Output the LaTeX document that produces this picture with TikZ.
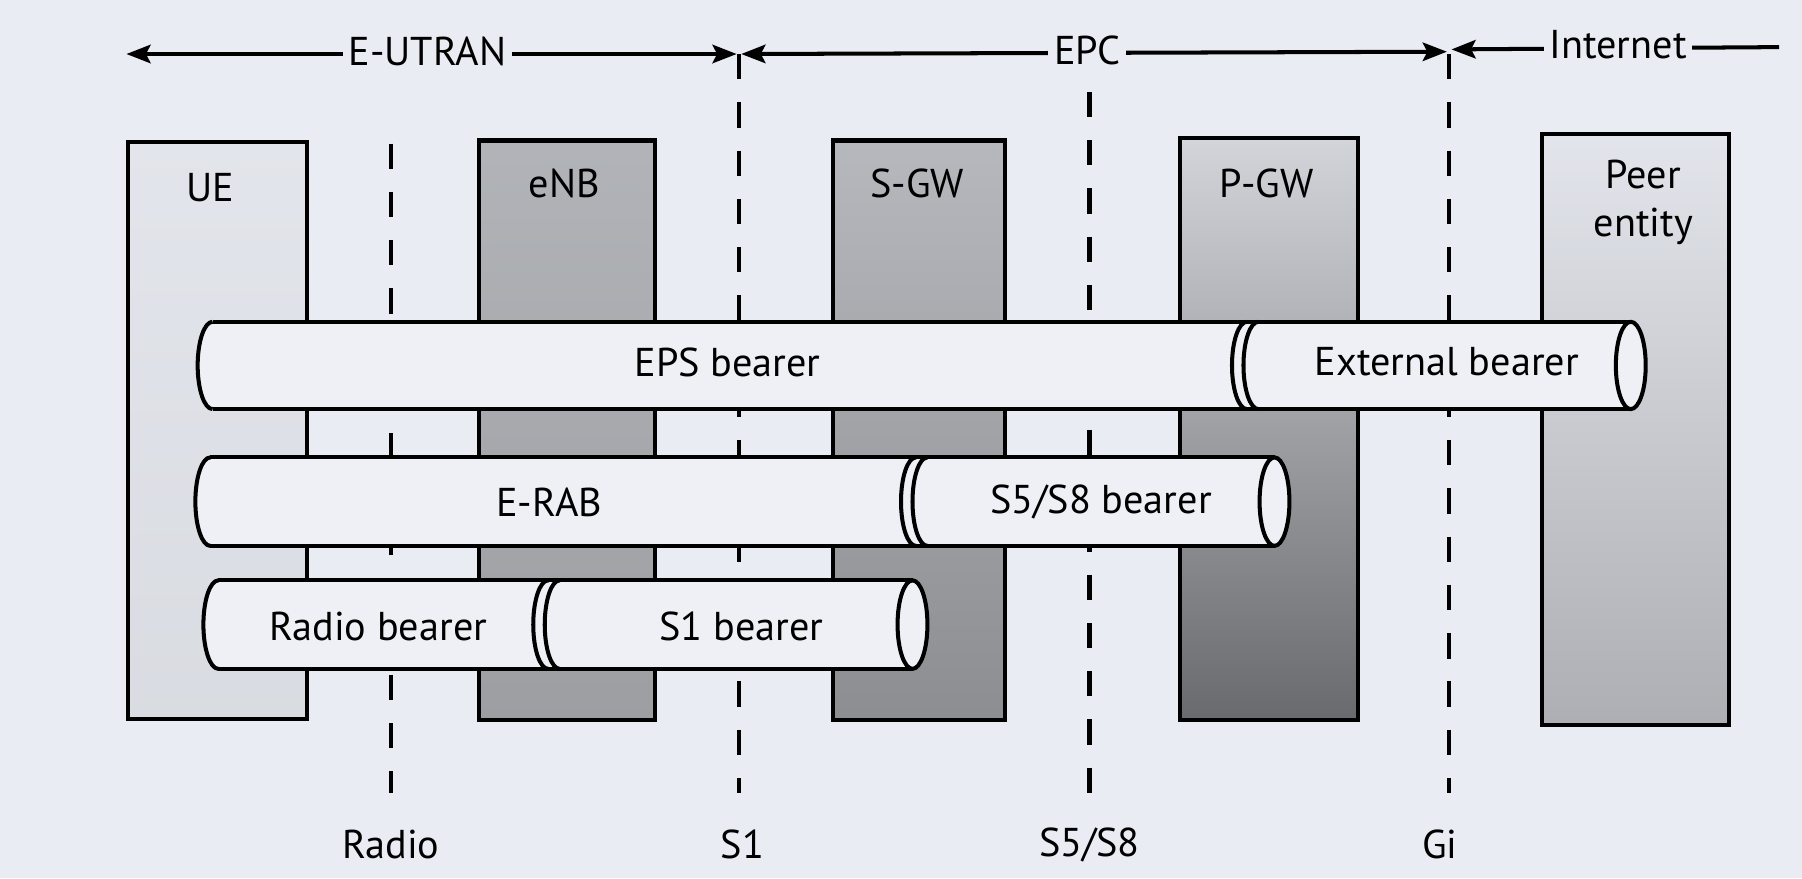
\documentclass[tikz,border=0pt]{standalone}
\usepackage{fontspec}
\setmainfont{PT Sans}
\usetikzlibrary{arrows.meta,positioning}
\definecolor{bg}{HTML}{E9ECF2}
\definecolor{cylc}{HTML}{EEF0F5}
\tikzset{
  box/.style={draw=black, line width=3.5pt, anchor=south west, inner sep=0pt},
  lbl/.style={inner sep=1pt, align=center},
  iface/.style={line width=3.5pt, dash pattern=on 22pt off 20pt},
  cylfill/.style={fill=cylc},
  cylline/.style={draw=black, line width=3.5pt, line join=round},
  arr/.style={line width=3.5pt, {Stealth[length=21pt,width=16pt,inset=4pt]}-{Stealth[length=21pt,width=16pt,inset=4pt]}},
  larr/.style={line width=3.5pt, {Stealth[length=21pt,width=16pt,inset=4pt]}-},
  onarrow/.style={fill=bg, inner xsep=5pt, inner ysep=2pt},
}
\begin{document}
\begin{tikzpicture}[x=1pt,y=1pt,font=\fontsize{35}{41}\selectfont]
\fill[bg] (0,0) rectangle (1568,764);
\useasboundingbox (0,0) rectangle (1568,764);

% network element boxes
\node[box, top color=black!3!bg, bottom color=black!7!bg, minimum width=155, minimum height=502] (ue) at (110,137) {};
\node[box, top color=black!24!bg, bottom color=black!33!bg, minimum width=153, minimum height=504] (enb) at (415,136) {};
\node[box, top color=black!22!bg, bottom color=black!40!bg, minimum width=150, minimum height=504] (sgw) at (723,136) {};
\node[box, top color=black!10!bg, bottom color=black!55!bg, minimum width=155, minimum height=506] (pgw) at (1025,136) {};
\node[box, top color=black!3!bg, bottom color=black!26!bg, minimum width=163, minimum height=515] (peer) at (1340,131) {};

\node[lbl] (uel) at (183,601) {UE};
\node[lbl] (enbl) at (491,604) {eNB};
\node[lbl] (sgwl) at (798,604) {S-GW};
\node[lbl] (pgwl) at (1102,604) {P-GW};
\node[lbl, align=center, font=\fontsize{35}{42}\selectfont] (peerl) at (1430,588) {Peer\\entity};

% interface lines
\coordinate (radT) at (340,639); \coordinate (radB) at (340,74);
\coordinate (s1T) at (643,717);  \coordinate (s1B) at (643,74);
\coordinate (s5T) at (948,684);  \coordinate (s5B) at (948,74);
\coordinate (giT) at (1261,717); \coordinate (giB) at (1261,74);
\draw[iface] (radT) -- (radB);
\draw[iface] (s1T) -- (s1B);
\draw[iface] (s5T) -- (s5B);
\draw[iface] (giT) -- (giB);

\node[lbl] (radl) at (340,29) {Radio};
\node[lbl] (s1l) at (646,29) {S1};
\node[lbl] (s5l) at (948,29) {S5/S8};
\node[lbl] (gil) at (1253,29) {Gi};

% Row 1: EPS bearer + External bearer
\fill[cylfill] (185,484) arc[start angle=90,end angle=270,x radius=13,y radius=38] -- (1419,408) arc[start angle=-90,end angle=90,x radius=13,y radius=38] -- cycle;
\draw[cylline] (185,484) arc[start angle=90,end angle=270,x radius=13,y radius=38];
\draw[cylline] (185,484) -- (1419,484);
\draw[cylline] (185,408) -- (1419,408);
\draw[cylline] (1085,484) arc[start angle=90,end angle=270,x radius=13,y radius=38];
\draw[cylline] (1095,484) arc[start angle=90,end angle=270,x radius=13,y radius=38];
\draw[cylline] (1419,446) ellipse[x radius=13,y radius=38];
\node (eps) at (633,449) {EPS bearer};
\node (ext) at (1259,449) {External bearer};

% Row 2: E-RAB + S5/S8 bearer
\fill[cylfill] (183,366) arc[start angle=90,end angle=270,x radius=13,y radius=38.5] -- (1109,289) arc[start angle=-90,end angle=90,x radius=13,y radius=38.5] -- cycle;
\draw[cylline] (183,366) arc[start angle=90,end angle=270,x radius=13,y radius=38.5];
\draw[cylline] (183,366) -- (1109,366);
\draw[cylline] (183,289) -- (1109,289);
\draw[cylline] (797,366) arc[start angle=90,end angle=270,x radius=13,y radius=38.5];
\draw[cylline] (807,366) arc[start angle=90,end angle=270,x radius=13,y radius=38.5];
\draw[cylline] (1109,327.5) ellipse[x radius=13,y radius=38.5];
\node (erab) at (478,327) {E-RAB};
\node (s5b) at (958,327) {S5/S8 bearer};

% Row 3: Radio bearer + S1 bearer
\fill[cylfill] (190,259) arc[start angle=90,end angle=270,x radius=13,y radius=38.5] -- (794,182) arc[start angle=-90,end angle=90,x radius=13,y radius=38.5] -- cycle;
\draw[cylline] (190,259) arc[start angle=90,end angle=270,x radius=13,y radius=38.5];
\draw[cylline] (190,259) -- (794,259);
\draw[cylline] (190,182) -- (794,182);
\draw[cylline] (477,259) arc[start angle=90,end angle=270,x radius=13,y radius=38.5];
\draw[cylline] (487,259) arc[start angle=90,end angle=270,x radius=13,y radius=38.5];
\draw[cylline] (794,220.5) ellipse[x radius=13,y radius=38.5];
\node (rb) at (329,219) {Radio bearer};
\node (s1b) at (645,219) {S1 bearer};

% domain arrows
\coordinate (eL) at (110,717); \coordinate (eR) at (641,717);
\coordinate (pL) at (645,717); \coordinate (pR) at (1259,719);
\coordinate (iL) at (1263,721); \coordinate (iR) at (1548,723);
\draw[arr] (eL) -- (eR);
\draw[arr] (pL) -- (pR);
\draw[larr] (iL) -- (iR);
\node[onarrow] (eutran) at (372,719) {E-UTRAN};
\node[onarrow] (epc) at (946,720) {EPC};
\node[onarrow] (inet) at (1408,725) {Internet};
\end{tikzpicture}
\end{document}
